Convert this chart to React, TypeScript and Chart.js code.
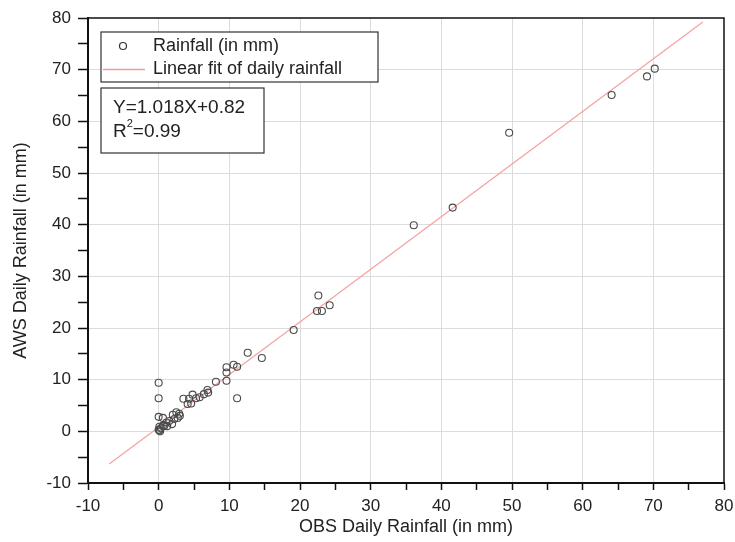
import React, { useEffect, useRef } from "react";
import { Chart, registerables } from "chart.js";

Chart.register(...registerables);

const obsRain = [70.2, 69.1, 64.1, 49.6, 36.1, 41.6, 22.6, 22.4, 23.1, 24.2, 19.1, 12.6, 14.6, 9.6, 9.6, 10.6, 11.1, 8.1, 9.6, 11.1, 0, 0, 6.9, 7.0, 6.4, 5.8, 5.3, 4.8, 4.3, 4.1, 4.6, 3.5, 0, 0.6, 0.1, 0.3, 0.8, 1.1, 1.5, 2.0, 2.5, 2.2, 2.7, 1.9, 0.6, 0.1, 0.0, 0.2, 1.2, 2.9, 3.0];
const awsRain = [70.2, 68.7, 65.1, 57.8, 39.9, 43.3, 26.3, 23.3, 23.3, 24.4, 19.6, 15.2, 14.2, 12.4, 11.4, 12.9, 12.5, 9.6, 9.8, 6.4, 9.4, 6.4, 8.0, 7.5, 7.2, 6.6, 6.4, 7.1, 6.3, 5.3, 5.4, 6.3, 2.8, 2.6, 0.2, 0.6, 1.1, 1.7, 2.0, 3.2, 3.7, 2.4, 2.6, 1.4, 1.1, 0.9, 0.3, 0.0, 1.0, 3.4, 3.0];

const fitSlope = 1.018;
const fitIntercept = 0.82;
const fitX = [-7, 77];

const axisMin = -10;
const axisMax = 80;

const legendLabels = ["Rainfall (in mm)", "Linear fit of daily rainfall"];
const equationLines = ["Y=1.018X+0.82", "R", "=0.99"];

const FONT = "Arial, 'Liberation Sans', sans-serif";

const overlayPlugin = {
  id: "overlay",
  afterDraw(chart: any) {
    const ctx = chart.ctx;
    const a = chart.chartArea;
    ctx.save();
    // top and right frame
    ctx.strokeStyle = "#111";
    ctx.lineWidth = 1.5;
    ctx.beginPath();
    ctx.moveTo(a.left, a.top);
    ctx.lineTo(a.right, a.top);
    ctx.lineTo(a.right, a.bottom);
    ctx.stroke();

    // legend box
    ctx.fillStyle = "#fff";
    ctx.fillRect(101, 32, 277, 50);
    ctx.strokeStyle = "#333";
    ctx.lineWidth = 1.2;
    ctx.strokeRect(101, 32, 277, 50);
    ctx.beginPath();
    ctx.arc(123, 46, 3.5, 0, Math.PI * 2);
    ctx.strokeStyle = "#333";
    ctx.lineWidth = 1.2;
    ctx.stroke();
    ctx.beginPath();
    ctx.moveTo(103, 69.5);
    ctx.lineTo(145, 69.5);
    ctx.strokeStyle = "#f29a9a";
    ctx.lineWidth = 1.5;
    ctx.stroke();
    ctx.fillStyle = "#222";
    ctx.font = "18px " + FONT;
    ctx.textBaseline = "middle";
    ctx.textAlign = "left";
    ctx.fillText(legendLabels[0], 153, 46);
    ctx.fillText(legendLabels[1], 153, 69);

    // equation box
    ctx.fillStyle = "#fff";
    ctx.fillRect(101, 88, 163, 65);
    ctx.strokeStyle = "#333";
    ctx.lineWidth = 1.2;
    ctx.strokeRect(101, 88, 163, 65);
    ctx.fillStyle = "#222";
    ctx.font = "19px " + FONT;
    ctx.fillText(equationLines[0], 113, 108);
    ctx.fillText(equationLines[1], 113, 132);
    const rw = ctx.measureText(equationLines[1]).width;
    ctx.font = "11px " + FONT;
    ctx.fillText("2", 113 + rw, 124);
    const sw = ctx.measureText("2").width;
    ctx.font = "19px " + FONT;
    ctx.fillText(equationLines[2], 113 + rw + sw, 132);
    ctx.restore();
  },
};

export default function App() {
  const ref = useRef<HTMLCanvasElement>(null);
  useEffect(() => {
    if (!ref.current) return;
    const points = obsRain.map((x, i) => ({ x, y: awsRain[i] }));
    const fitPoints = fitX.map((x) => ({ x, y: fitSlope * x + fitIntercept }));
    const gridColor = (c: any) =>
      c.tick && Math.round(c.tick.value) % 10 === 0 && c.tick.value > axisMin && c.tick.value < axisMax
        ? "#dcdcdc"
        : "rgba(0,0,0,0)";
    const tickCb = (v: any) => (Math.round(v) % 10 === 0 ? String(v) : "");
    const chart = new Chart(ref.current, {
      type: "scatter",
      data: {
        datasets: [
          {
            label: legendLabels[1],
            data: fitPoints,
            showLine: true,
            borderColor: "#f4a3a3",
            borderWidth: 1.3,
            pointRadius: 0,
            order: 2,
          },
          {
            label: legendLabels[0],
            data: points,
            pointRadius: 3.5,
            pointBorderWidth: 1.1,
            borderColor: "#4a4a4a",
            backgroundColor: "rgba(0,0,0,0)",
            order: 1,
          },
        ],
      },
      plugins: [overlayPlugin],
      options: {
        responsive: false,
        animation: false,
        layout: { padding: { top: 18, right: 11, left: 0, bottom: 0 } },
        plugins: { legend: { display: false }, tooltip: { enabled: false } },
        scales: {
          x: {
            type: "linear",
            min: axisMin,
            max: axisMax,
            afterFit: (s: any) => {
              s.height = 59;
              s.paddingLeft = 0;
              s.paddingRight = 0;
            },
            ticks: {
              stepSize: 5,
              autoSkip: false,
              maxRotation: 0,
              callback: tickCb,
              color: "#222",
              font: { size: 17, family: FONT },
              padding: 6,
            },
            grid: {
              color: gridColor,
              tickColor: "#111",
              tickLength: 7,
              lineWidth: 1,
              tickWidth: 1.5,
            },
            border: { display: true, color: "#111", width: 2 },
            title: {
              display: true,
              text: "OBS Daily Rainfall (in mm)",
              color: "#222",
              font: { size: 18, family: FONT },
              padding: { top: 0, bottom: 4 },
            },
          },
          y: {
            type: "linear",
            min: axisMin,
            max: axisMax,
            afterFit: (s: any) => {
              s.width = 88;
              s.paddingTop = 0;
              s.paddingBottom = 0;
            },
            ticks: {
              stepSize: 5,
              autoSkip: false,
              callback: tickCb,
              color: "#222",
              font: { size: 17, family: FONT },
              padding: 7,
            },
            grid: {
              color: gridColor,
              tickColor: "#111",
              tickLength: 10,
              lineWidth: 1,
              tickWidth: 1.5,
            },
            border: { display: true, color: "#111", width: 2 },
            title: {
              display: true,
              text: "AWS Daily Rainfall (in mm)",
              color: "#222",
              font: { size: 18, family: FONT },
              padding: { top: 10, bottom: 0 },
            },
          },
        },
      },
    });
    return () => chart.destroy();
  }, []);
  return (
    <div style={{ position: "fixed", left: 0, top: 0, width: 735, height: 542, background: "#fff" }}>
      <canvas ref={ref} width={735} height={542} />
    </div>
  );
}
